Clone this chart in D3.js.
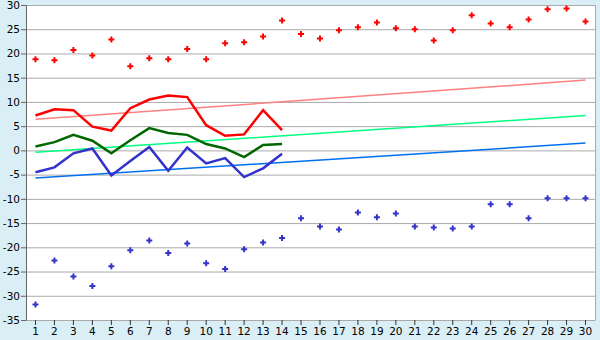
<!DOCTYPE html>
<html>
<head>
<meta charset="utf-8">
<script src="https://cdn.jsdelivr.net/npm/d3@7"></script>
<style>
  body { margin: 0; background: #daeef5; }
  svg { display: block; }
  .tick text { font-family: Verdana, "DejaVu Sans", sans-serif; font-size: 10.5px; fill: #000; }
</style>
</head>
<body>
<div id="chart"></div>
<script>
// categories on the x axis
const days = d3.range(1, 31);

// scatter series (upper red, lower blue)
const highPoints = [18.8, 18.6, 20.7, 19.6, 22.9, 17.35, 19.0, 18.8, 20.9, 18.8,
                    22.1, 22.3, 23.5, 26.8, 24.0, 23.1, 24.8, 25.4, 26.4, 25.2,
                    25.0, 22.7, 24.8, 27.9, 26.2, 25.4, 27.0, 29.1, 29.3, 26.6];
const lowPoints = [-31.8, -22.7, -26.0, -28.0, -23.9, -20.6, -18.6, -21.2, -19.2, -23.3,
                   -24.5, -20.4, -19.0, -18.1, -14.0, -15.7, -16.3, -12.8, -13.8, -13.0,
                   -15.7, -15.9, -16.1, -15.7, -11.1, -11.1, -14.0, -9.9, -9.9, -9.9];

// line series (first 14 days)
const redLine = [7.2, 8.5, 8.3, 4.9, 4.1, 8.7, 10.5, 11.3, 11.0, 5.2, 3.0, 3.3, 8.3, 4.2];
const greenLine = [0.8, 1.7, 3.2, 2.0, -0.6, 2.1, 4.6, 3.6, 3.2, 1.3, 0.4, -1.4, 1.1, 1.3];
const blueLine = [-4.5, -3.5, -0.6, 0.4, -5.2, -2.2, 0.7, -4.2, 0.6, -2.7, -1.6, -5.5, -3.7, -0.7];

// trend lines: value at day 1 and day 30
const redTrend = [6.4, 14.5];
const greenTrend = [-0.4, 7.2];
const blueTrend = [-5.7, 1.5];

const yTicks = d3.range(-35, 31, 5);

const W = 600, H = 340;
const margin = { top: 5, right: 5, bottom: 20, left: 26 };
const width = W - margin.left - margin.right,
      height = H - margin.top - margin.bottom;

const svg = d3.select('#chart').append('svg')
    .attr('width', W).attr('height', H);

const g = svg.append('g').attr('transform', `translate(${margin.left},${margin.top})`);

const x = d3.scaleBand().domain(days).range([0, width]);
const y = d3.scaleLinear().domain([-35, 30]).range([height, 0]);
const cx = d => x(d) + x.bandwidth() / 2;

// plot background
g.append('rect').attr('width', width).attr('height', height).attr('fill', '#fff');

// gridlines
g.selectAll('.grid').data(yTicks).enter().append('line')
    .attr('x1', 0).attr('x2', width)
    .attr('y1', d => y(d) + 0.5).attr('y2', d => y(d) + 0.5)
    .attr('stroke', '#aaaaaa').attr('stroke-width', 1);

// right border
g.append('line').attr('x1', width + 0.5).attr('x2', width + 0.5)
    .attr('y1', 0).attr('y2', height).attr('stroke', '#aaaaaa');

// axes
const yAxis = g.append('g')
    .call(d3.axisLeft(y).tickValues(yTicks).tickSize(5).tickPadding(1)
        .tickFormat(d => String(d)));
yAxis.select('.domain').attr('stroke', '#666');
yAxis.selectAll('.tick line').attr('stroke', '#666');

const xAxis = g.append('g').attr('transform', `translate(0,${height})`)
    .call(d3.axisBottom(x).tickSize(5).tickPadding(3).tickSizeOuter(0));
xAxis.select('.domain').attr('stroke', '#aaaaaa');
xAxis.selectAll('.tick line').attr('stroke', '#333');

// trend lines
const trends = [
    { v: redTrend, color: '#ff8080' },
    { v: greenTrend, color: '#00ff80' },
    { v: blueTrend, color: '#0070f0' }
];
trends.forEach(t => {
    g.append('line')
        .attr('x1', cx(days[0])).attr('y1', y(t.v[0]))
        .attr('x2', cx(days[days.length - 1])).attr('y2', y(t.v[1]))
        .attr('stroke', t.color).attr('stroke-width', 1.5);
});

// line series
const line = d3.line().x((d, i) => cx(days[i])).y(d => y(d));
const lines = [
    { v: redLine, color: '#ff0000' },
    { v: greenLine, color: '#006600' },
    { v: blueLine, color: '#3333cc' }
];
lines.forEach(s => {
    g.append('path').datum(s.v)
        .attr('d', line)
        .attr('fill', 'none')
        .attr('stroke', s.color)
        .attr('stroke-width', 2.5)
        .attr('stroke-linejoin', 'miter');
});

// scatter markers
const cross = d3.symbol().type(d3.symbolCross).size(20);
const scatters = [
    { v: highPoints, color: '#ff0000' },
    { v: lowPoints, color: '#3333cc' }
];
scatters.forEach(s => {
    g.append('g').selectAll('path').data(s.v).enter().append('path')
        .attr('d', cross)
        .attr('transform', (d, i) => `translate(${cx(days[i])},${y(d)})`)
        .attr('fill', s.color);
});
</script>
</body>
</html>
